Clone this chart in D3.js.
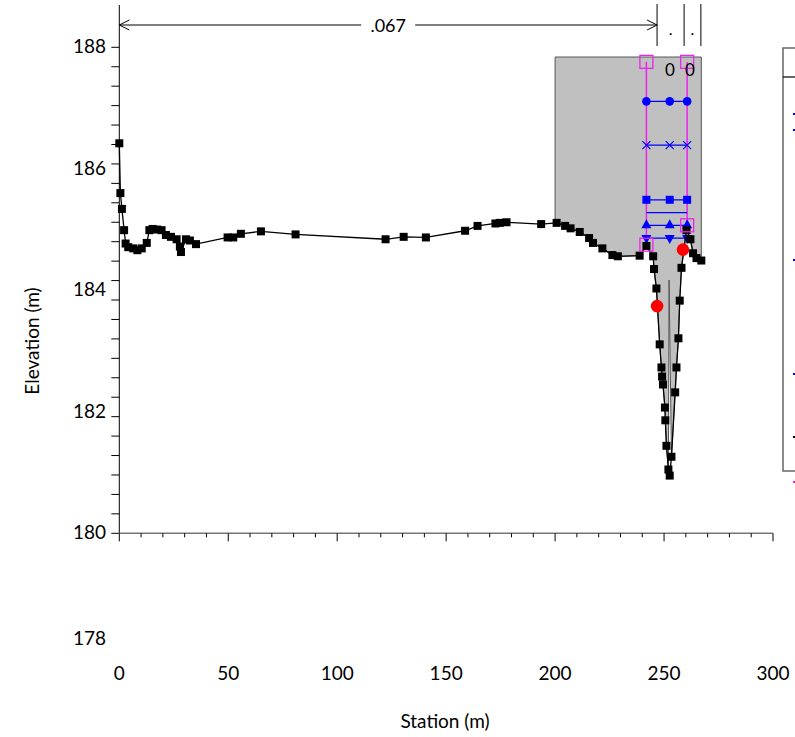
<!DOCTYPE html>
<html>
<head>
<meta charset="utf-8">
<script src="https://cdn.jsdelivr.net/npm/d3@7"></script>
<style>
  html, body { margin: 0; padding: 0; background: #fff; }
  svg { display: block; }
  text { font-family: Lato, "Open Sans", sans-serif; }
</style>
</head>
<body>
<svg id="chart" width="795" height="737"></svg>
<script>
// ---------- data ----------
const groundStation = [0, 0.5, 1.2, 2.2, 2.9, 4.1, 6.4, 8.3, 10.3, 12.6, 13.8, 15.3, 17.4, 19.4, 21.4, 23.7, 26.3, 27.8, 28.3, 30.6, 32.4, 35.2,
  49.7, 52.3, 55.8, 65.0, 80.9, 122.2, 130.5, 140.7, 158.7, 164.4, 172.6, 174.6, 177.7, 193.6, 200.7, 204.6, 207.1, 211.3, 215.6, 217.4,
  221.7, 226.3, 228.8, 238.8, 241.9, 245.0, 245.4, 246.5, 248.0, 248.8, 249.1, 249.5, 250.4, 250.6, 251.1, 252.0, 252.6,
  253.4, 255.1, 255.7, 256.6, 257.2, 258.0, 260.3, 262.1, 263.3, 264.9, 267.1];
const groundElev = [186.42, 185.60, 185.34, 184.99, 184.77, 184.71, 184.69, 184.66, 184.69, 184.78, 184.99, 185.01, 185.00, 184.99, 184.91, 184.88, 184.84, 184.72, 184.63, 184.84, 184.82, 184.76,
  184.87, 184.87, 184.93, 184.97, 184.92, 184.84, 184.88, 184.87, 184.98, 185.06, 185.10, 185.11, 185.12, 185.09, 185.11, 185.06, 185.02, 184.96, 184.86, 184.78,
  184.69, 184.58, 184.56, 184.57, 184.73, 184.56, 184.35, 184.03, 183.11, 182.73, 182.58, 182.45, 182.07, 181.86, 181.44, 181.05, 180.95,
  181.26, 182.32, 182.73, 183.21, 183.83, 184.37, 184.99, 184.84, 184.61, 184.53, 184.49];

// gray obstruction block
const blockLeft = 200, blockRight = 267.1, blockTop = 187.84;
const blockApex = [252.3, 184.17];

// bank stations
const bankStation = [246.8, 258.7];
const bankElev = [183.74, 184.67];

// Manning's n regions
const nBreaks = [0, 246.8, 259.2, 266.9];
const nLabels = [".067", ".", "."];

// water surface profiles (start, mid, end stations)
const wsStations = [241.9, 252.6, 260.6];
const wsElev = [187.11, 186.39, 185.49, 185.28, 185.07, 184.86];
const wsMarker = ["circle", "cross", "square", "none", "triangleUp", "triangleDown"];

// magenta markers (levee-type lines)
const magStation = [241.9, 260.6];
const magTop = [187.76, 187.76];
const magBottom = [184.75, 185.07];
const magLabels = ["0", "0"];

// axes
const xTicks = [0, 50, 100, 150, 200, 250, 300];
const yTicks = [180, 182, 184, 186, 188];
const yExtraLabel = 178;

// ---------- scales ----------
const svg = d3.select("#chart");
const x = d3.scaleLinear().domain([0, 300]).range([119.3, 773]);
const y = d3.scaleLinear().domain([180, 188]).range([533.3, 47.3]);

const ground = groundStation.map((s, i) => [s, groundElev[i]]);

// ---------- gray block polygon ----------
const inside = ground.filter(d => d[0] >= blockLeft && d[0] <= blockRight);
const rev = inside.slice().reverse();
const poly = [[blockLeft, blockTop], [blockRight, blockTop]];
rev.forEach(d => {
  if (d[0] === 252.6) { poly.push(blockApex); }
  else poly.push(d);
});
poly.push([blockLeft, 185.10]);
svg.append("path")
  .attr("d", d3.line().x(d => x(d[0])).y(d => y(d[1]))(poly) + "Z")
  .attr("fill", "#c0c0c0")
  .attr("stroke", "#555")
  .attr("stroke-width", 1);

// ---------- axes ----------
svg.append("line").attr("x1", x(0)).attr("x2", x(0)).attr("y1", 5).attr("y2", y(180))
  .attr("stroke", "#000").attr("stroke-width", 1);
const yMinor = d3.range(0, 26).map(i => 180 + i * 0.32);
svg.selectAll(".ytick").data(yMinor).enter().append("line")
  .attr("x1", x(0) - 8).attr("x2", x(0))
  .attr("y1", d => y(d)).attr("y2", d => y(d))
  .attr("stroke", "#000").attr("stroke-width", 1);
svg.selectAll(".ylab").data(yTicks).enter().append("text")
  .attr("x", 106).attr("y", d => y(d) + 6)
  .attr("text-anchor", "end").attr("font-size", 19).attr("fill", "#000")
  .text(d => d);
svg.append("text").attr("x", 106).attr("y", 645)
  .attr("text-anchor", "end").attr("font-size", 19).text(yExtraLabel);

svg.append("line").attr("x1", x(0)).attr("x2", x(300)).attr("y1", y(180)).attr("y2", y(180))
  .attr("stroke", "#777").attr("stroke-width", 1.5);
const xMinor = d3.range(0, 301, 10);
svg.selectAll(".xtick").data(xMinor).enter().append("line")
  .attr("x1", d => x(d)).attr("x2", d => x(d))
  .attr("y1", y(180)).attr("y2", d => y(180) + (d % 50 === 0 ? 8 : 4))
  .attr("stroke", "#000").attr("stroke-width", 1);
svg.selectAll(".xlab").data(xTicks).enter().append("text")
  .attr("x", d => x(d)).attr("y", 680)
  .attr("text-anchor", "middle").attr("font-size", 19)
  .text(d => d);

svg.append("text").attr("x", 445).attr("y", 728).attr("text-anchor", "middle")
  .attr("font-size", 19).text("Station (m)");
svg.append("text").attr("transform", "translate(39,341) rotate(-90)")
  .attr("text-anchor", "middle").attr("font-size", 19).text("Elevation (m)");

// ---------- Manning's n ----------
const nY = 25;
svg.selectAll(".nsep").data(nBreaks.slice(1)).enter().append("line")
  .attr("x1", d => x(d)).attr("x2", d => x(d)).attr("y1", 4).attr("y2", 46)
  .attr("stroke", "#000").attr("stroke-width", 1);
svg.append("line").attr("x1", x(nBreaks[0])).attr("x2", x(nBreaks[1])).attr("y1", nY).attr("y2", nY)
  .attr("stroke", "#000").attr("stroke-width", 1);
const ah = 10, aw = 5;
svg.append("path").attr("d", `M${x(nBreaks[0]) + ah},${nY - aw} L${x(nBreaks[0])},${nY} L${x(nBreaks[0]) + ah},${nY + aw}`)
  .attr("fill", "none").attr("stroke", "#000");
svg.append("path").attr("d", `M${x(nBreaks[1]) - ah},${nY - aw} L${x(nBreaks[1])},${nY} L${x(nBreaks[1]) - ah},${nY + aw}`)
  .attr("fill", "none").attr("stroke", "#000");
const midN = (x(nBreaks[0]) + x(nBreaks[1])) / 2;
svg.append("rect").attr("x", midN - 27).attr("y", nY - 11).attr("width", 54).attr("height", 22).attr("fill", "#fff");
svg.append("text").attr("x", midN).attr("y", nY + 7).attr("text-anchor", "middle")
  .attr("font-family", "DejaVu Sans").attr("font-size", 18).text(nLabels[0]);
svg.selectAll(".nlab").data([1, 2]).enter().append("text")
  .attr("x", i => (x(nBreaks[i]) + x(nBreaks[i + 1])) / 2).attr("y", 35)
  .attr("text-anchor", "middle").attr("font-family", "DejaVu Sans").attr("font-size", 16)
  .text(i => nLabels[i]);

// ---------- magenta lines ----------
svg.selectAll(".magline").data(magStation).enter().append("line")
  .attr("x1", d => x(d)).attr("x2", d => x(d))
  .attr("y1", (d, i) => y(magTop[i])).attr("y2", (d, i) => y(magBottom[i]))
  .attr("stroke", "#ee22ee").attr("stroke-width", 1.5);

// ---------- water surfaces ----------
const blue = "#0000ff";
wsElev.forEach((e, k) => {
  svg.append("line").attr("x1", x(wsStations[0])).attr("x2", x(wsStations[2]))
    .attr("y1", y(e)).attr("y2", y(e)).attr("stroke", blue).attr("stroke-width", 1.3);
  const m = wsMarker[k];
  if (m === "none") return;
  wsStations.forEach(s => {
    const cx = x(s), cy = y(e);
    if (m === "circle") svg.append("circle").attr("cx", cx).attr("cy", cy).attr("r", 4.3).attr("fill", blue);
    else if (m === "square") svg.append("rect").attr("x", cx - 4).attr("y", cy - 4).attr("width", 8).attr("height", 8).attr("fill", blue);
    else if (m === "cross") svg.append("path").attr("d", `M${cx - 4},${cy - 4}L${cx + 4},${cy + 4}M${cx - 4},${cy + 4}L${cx + 4},${cy - 4}`)
      .attr("stroke", blue).attr("stroke-width", 1.2);
    else if (m === "triangleUp") svg.append("path").attr("d", `M${cx},${cy - 6}L${cx + 5},${cy + 3}L${cx - 5},${cy + 3}Z`).attr("fill", blue);
    else if (m === "triangleDown") svg.append("path").attr("d", `M${cx},${cy + 6}L${cx + 5},${cy - 3}L${cx - 5},${cy - 3}Z`).attr("fill", blue);
  });
});

// ---------- ground ----------
svg.append("path")
  .attr("d", d3.line().x(d => x(d[0])).y(d => y(d[1]))(ground))
  .attr("fill", "none").attr("stroke", "#000").attr("stroke-width", 1.3);
svg.selectAll(".gpt").data(ground).enter().append("rect")
  .attr("x", d => x(d[0]) - 4).attr("y", d => y(d[1]) - 4)
  .attr("width", 8).attr("height", 8).attr("fill", "#000");

const magPts = [];
magStation.forEach((s, i) => { magPts.push([s, magTop[i]]); magPts.push([s, magBottom[i]]); });
svg.selectAll(".magbox").data(magPts).enter().append("rect")
  .attr("x", d => x(d[0]) - 6.5).attr("y", d => y(d[1]) - 6.5)
  .attr("width", 13).attr("height", 13)
  .attr("fill", "none").attr("stroke", "#ee22ee").attr("stroke-width", 1.3);
svg.selectAll(".maglab").data(magLabels).enter().append("text")
  .attr("x", (d, i) => [670, 690][i]).attr("y", 76)
  .attr("text-anchor", "middle").attr("font-family", "DejaVu Sans").attr("font-size", 17)
  .text(d => d);

svg.selectAll(".bank").data(bankStation).enter().append("circle")
  .attr("cx", d => x(d)).attr("cy", (d, i) => y(bankElev[i])).attr("r", 6.3)
  .attr("fill", "#ff0000");

// ---------- legend (clipped at right edge) ----------
svg.append("rect").attr("x", 783).attr("y", 48).attr("width", 30).attr("height", 423)
  .attr("fill", "none").attr("stroke", "#666").attr("stroke-width", 1.5);
svg.append("line").attr("x1", 783).attr("x2", 800).attr("y1", 77).attr("y2", 77)
  .attr("stroke", "#000").attr("stroke-width", 1.2);
const legendY = [114, 130, 260, 374, 437, 482];
const legendC = [blue, blue, blue, blue, "#000", "#ee22ee"];
svg.selectAll(".lg").data(legendY).enter().append("rect")
  .attr("x", 793).attr("y", d => d - 1).attr("width", 2).attr("height", 2)
  .attr("fill", (d, i) => legendC[i]);
</script>
</body>
</html>
